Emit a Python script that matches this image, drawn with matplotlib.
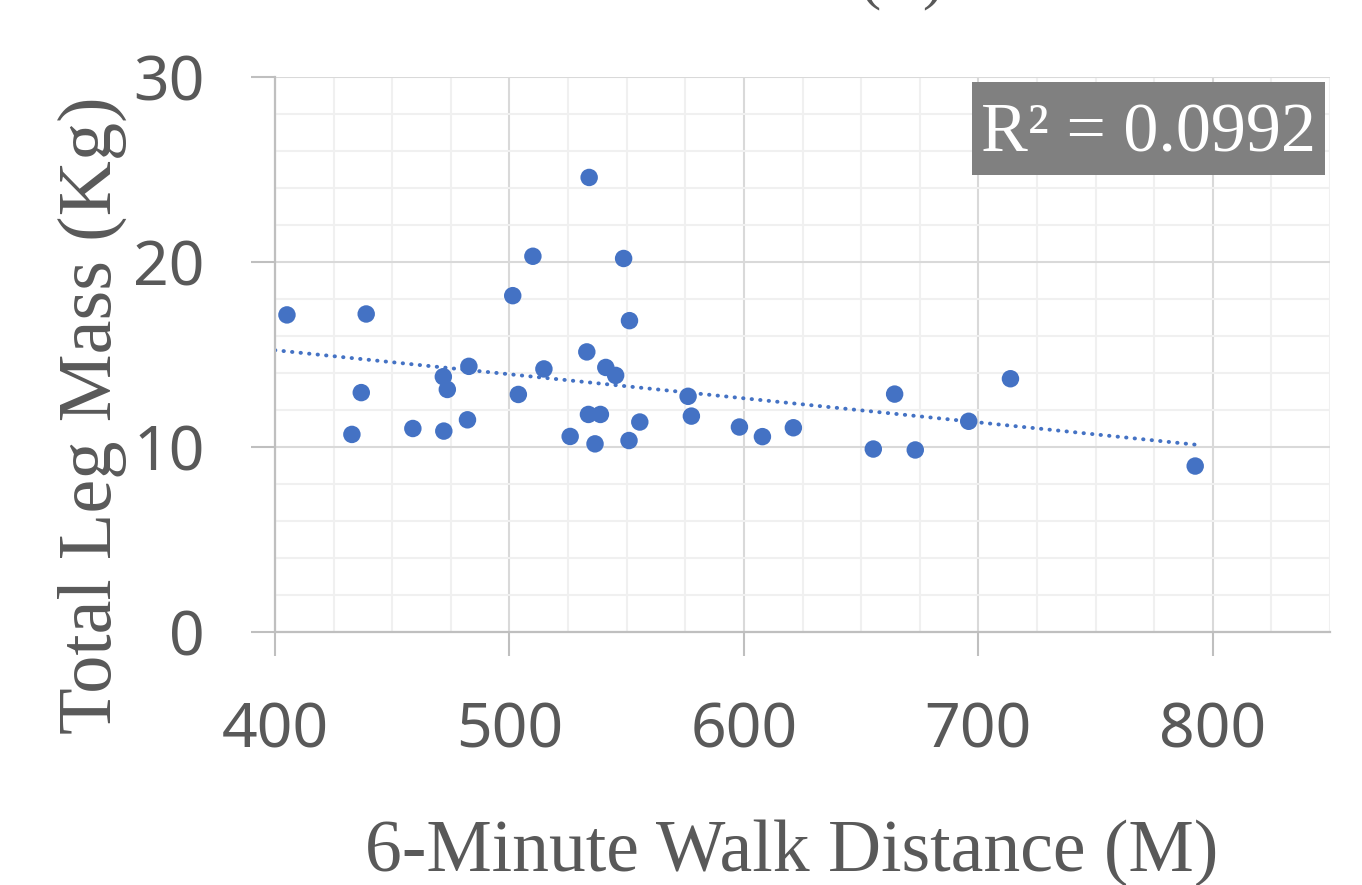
import matplotlib
matplotlib.use("Agg")
import matplotlib.pyplot as plt
from matplotlib.patches import Rectangle
from matplotlib.ticker import MultipleLocator
import numpy as np

# 6-minute walk distance (m) vs total leg mass (kg)
walk_distance = [
    405.1, 438.9, 501.4, 510.0, 534.0, 548.7, 551.2, 533.0, 482.7, 514.7,
    541.1, 545.3, 471.8, 473.5, 436.8, 503.8, 576.2, 533.7, 538.8, 577.6,
    482.1, 555.6, 458.8, 472.0, 432.8, 525.9, 551.0, 536.5, 664.3, 713.7,
    695.9, 655.2, 673.1, 792.5, 598.1, 607.9, 621.1,
]
leg_mass = [
    17.14, 17.19, 18.18, 20.31, 24.57, 20.19, 16.83, 15.14, 14.36, 14.22,
    14.30, 13.87, 13.80, 13.11, 12.94, 12.84, 12.74, 11.76, 11.76, 11.67,
    11.47, 11.35, 11.00, 10.86, 10.68, 10.57, 10.35, 10.17, 12.86, 13.69,
    11.39, 9.89, 9.84, 8.97, 11.08, 10.56, 11.04,
]
x_ticks = [400, 500, 600, 700, 800]
y_ticks = [0, 10, 20, 30]
r2_label = "R² = 0.0992"

BLUE = "#4472C4"
TEXT_GRAY = "#595959"
AXIS_GRAY = "#bfbfbf"
SERIF = ["Liberation Serif", "DejaVu Serif"]

fig = plt.figure(figsize=(13.62, 8.85), dpi=100)
ax = fig.add_axes([275 / 1362, 1 - 632 / 885, 1055 / 1362, 555 / 885])

ax.set_xlim(400, 850)
ax.set_ylim(0, 30)

# grid
ax.set_xticks(x_ticks)
ax.set_yticks(y_ticks)
ax.xaxis.set_minor_locator(MultipleLocator(25))
ax.yaxis.set_minor_locator(MultipleLocator(2))
ax.grid(which="major", color="#d9d9d9", linewidth=1.5)
ax.grid(which="minor", color="#f0f0f0", linewidth=1.5)
ax.set_axisbelow(True)

for side in ["top", "right"]:
    ax.spines[side].set_visible(False)
for side in ["left", "bottom"]:
    ax.spines[side].set_color(AXIS_GRAY)
    ax.spines[side].set_linewidth(1.6)

ax.tick_params(which="major", length=17.5, width=1.5, color=AXIS_GRAY,
               labelcolor=TEXT_GRAY, labelsize=45)
ax.tick_params(axis="y", which="major", pad=33)
ax.tick_params(axis="x", which="major", pad=32)
ax.tick_params(which="minor", length=0)
for lbl in ax.get_xticklabels() + ax.get_yticklabels():
    lbl.set_family("Noto Sans")

# points
ax.scatter(walk_distance, leg_mass, s=158, color=BLUE, edgecolors="none",
           zorder=3, clip_on=False)

# linear trend
slope, intercept = np.polyfit(walk_distance, leg_mass, 1)
trend_x = np.array([ax.get_xlim()[0], max(walk_distance)])
ax.plot(trend_x, slope * trend_x + intercept, color=BLUE, linewidth=2.8,
        linestyle=(0, (0.1, 2.1)), dash_capstyle="round", zorder=2)

# R² box
ax.add_patch(Rectangle((0.6607, 0.8234), 0.3346, 0.1676, transform=ax.transAxes,
                       facecolor="#808080", edgecolor="none", zorder=4))
ax.text(0.828, 0.91, r2_label, transform=ax.transAxes, ha="center",
        va="center_baseline", fontsize=50.5, family=SERIF, color="white",
        zorder=5)

# axis titles
fig.text(792 / 1362, 1 - 853 / 885, "6-Minute Walk Distance (M)",
         ha="center", va="center", fontsize=53, family=SERIF, color=TEXT_GRAY)
fig.text(92 / 1362, 1 - 415 / 885, "Total Leg Mass (Kg)", rotation=90,
         ha="center", va="center", fontsize=55, family=SERIF, color=TEXT_GRAY)

# clipped panel label at the very top
fig.text(902 / 1362, 1 + 4 / 885, "(B)", ha="center", va="baseline",
         fontsize=46, family=SERIF, color=TEXT_GRAY)

fig.savefig("out.png", dpi=100)
